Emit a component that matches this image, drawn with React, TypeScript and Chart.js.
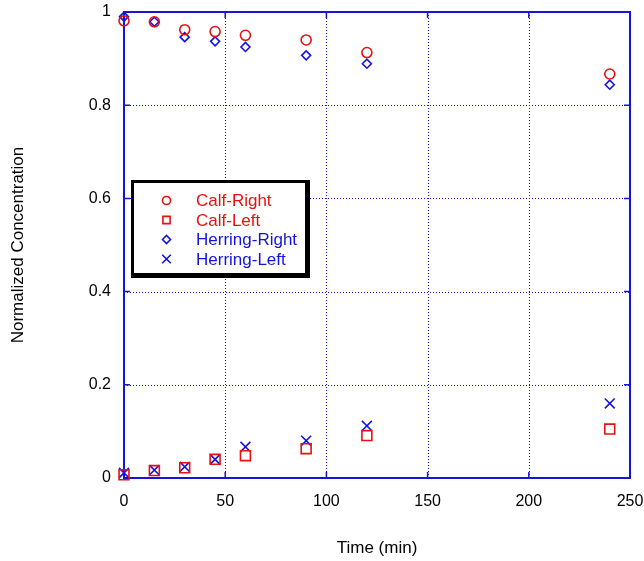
import React, { useEffect, useRef } from "react";
import { Chart, registerables } from "chart.js";

Chart.register(...registerables);

const times = [0, 15, 30, 45, 60, 90, 120, 240];
const calfRight = [0.981, 0.979, 0.962, 0.958, 0.95, 0.94, 0.913, 0.867];
const calfLeft = [0.007, 0.016, 0.022, 0.04, 0.048, 0.063, 0.091, 0.105];
const herringRight = [0.99, 0.979, 0.946, 0.937, 0.925, 0.907, 0.889, 0.844];
const herringLeft = [0.011, 0.017, 0.024, 0.04, 0.067, 0.08, 0.112, 0.16];

const seriesNames = ["Calf-Right", "Calf-Left", "Herring-Right", "Herring-Left"];
const xTitle = "Time (min)";
const yTitle = "Normalized Concentration";

const RED = "#e81010";
const BLUE = "#1414dc";
const FONT = "'Liberation Sans', Arial, sans-serif";

const toPoints = (ys: number[]) => times.map((t, i) => ({ x: t, y: ys[i] }));

function drawMarker(ctx: CanvasRenderingContext2D, kind: string, x: number, y: number, s: number, color: string) {
  ctx.save();
  ctx.strokeStyle = color;
  ctx.lineWidth = 1.6;
  ctx.beginPath();
  if (kind === "circle") {
    ctx.arc(x, y, s, 0, Math.PI * 2);
  } else if (kind === "rect") {
    ctx.rect(x - s, y - s, 2 * s, 2 * s);
  } else if (kind === "diamond") {
    ctx.moveTo(x - s, y);
    ctx.lineTo(x, y - s);
    ctx.lineTo(x + s, y);
    ctx.lineTo(x, y + s);
    ctx.closePath();
  } else {
    ctx.moveTo(x - s, y - s);
    ctx.lineTo(x + s, y + s);
    ctx.moveTo(x + s, y - s);
    ctx.lineTo(x - s, y + s);
  }
  ctx.stroke();
  ctx.restore();
}

const framePlugin = {
  id: "frame",
  beforeDatasetsDraw(chart: any) {
    const { ctx, chartArea, scales } = chart;
    const { left, right, top, bottom } = chartArea;
    const xs = scales.x;
    const ys = scales.y;
    ctx.save();
    ctx.strokeStyle = BLUE;
    ctx.lineWidth = 1;
    ctx.setLineDash([1, 2]);
    xs.ticks.forEach((t: any) => {
      if (t.value <= xs.min || t.value >= xs.max) return;
      const px = Math.round(xs.getPixelForValue(t.value)) + 0.5;
      ctx.beginPath();
      ctx.moveTo(px, top);
      ctx.lineTo(px, bottom);
      ctx.stroke();
    });
    ys.ticks.forEach((t: any) => {
      if (t.value <= ys.min || t.value >= ys.max) return;
      const py = Math.round(ys.getPixelForValue(t.value)) + 0.5;
      ctx.beginPath();
      ctx.moveTo(left, py);
      ctx.lineTo(right, py);
      ctx.stroke();
    });
    ctx.setLineDash([]);
    ctx.lineWidth = 1.5;
    const tl = 6;
    xs.ticks.forEach((t: any) => {
      const px = xs.getPixelForValue(t.value);
      ctx.beginPath();
      ctx.moveTo(px, bottom);
      ctx.lineTo(px, bottom - tl);
      ctx.moveTo(px, top);
      ctx.lineTo(px, top + tl);
      ctx.stroke();
    });
    ys.ticks.forEach((t: any) => {
      const py = ys.getPixelForValue(t.value);
      ctx.beginPath();
      ctx.moveTo(left, py);
      ctx.lineTo(left + tl, py);
      ctx.moveTo(right, py);
      ctx.lineTo(right - tl, py);
      ctx.stroke();
    });
    ctx.lineWidth = 2;
    ctx.strokeRect(left, top, right - left, bottom - top);
    ctx.restore();
  },
};

const legendPlugin = {
  id: "boxLegend",
  afterDraw(chart: any) {
    const { ctx } = chart;
    const bx = 131, by = 180, bw = 179, bh = 98;
    ctx.save();
    ctx.fillStyle = "#000";
    ctx.fillRect(bx, by, bw, bh);
    ctx.fillStyle = "#fff";
    ctx.fillRect(bx + 3, by + 3, bw - 8, bh - 8);
    const kinds = ["circle", "rect", "diamond", "cross"];
    const sizes = [4, 3.6, 4, 4.3];
    const colors = [RED, RED, BLUE, BLUE];
    ctx.font = `17px ${FONT}`;
    ctx.textBaseline = "middle";
    ctx.textAlign = "left";
    seriesNames.forEach((name, i) => {
      const y = by + 20.5 + i * 19.5;
      drawMarker(ctx, kinds[i], 166.5, y, sizes[i], colors[i]);
      ctx.fillStyle = colors[i];
      ctx.fillText(name, 196, y + 1);
    });
    ctx.restore();
  },
};

export default function App() {
  const ref = useRef<HTMLCanvasElement | null>(null);
  useEffect(() => {
    if (!ref.current) return;
    const chart = new Chart(ref.current, {
      type: "scatter",
      data: {
        datasets: [
          {
            label: seriesNames[0],
            data: toPoints(calfRight),
            pointStyle: "circle",
            pointRadius: 5,
            borderColor: RED,
            backgroundColor: "transparent",
            pointBorderWidth: 1.6,
            clip: false,
          },
          {
            label: seriesNames[1],
            data: toPoints(calfLeft),
            pointStyle: "rect",
            pointRadius: 7,
            borderColor: RED,
            backgroundColor: "transparent",
            pointBorderWidth: 1.6,
            clip: false,
          },
          {
            label: seriesNames[2],
            data: toPoints(herringRight),
            pointStyle: "rectRot",
            pointRadius: 4.5,
            borderColor: BLUE,
            backgroundColor: "transparent",
            pointBorderWidth: 1.6,
            clip: false,
          },
          {
            label: seriesNames[3],
            data: toPoints(herringLeft),
            pointStyle: "crossRot",
            pointRadius: 7,
            borderColor: BLUE,
            backgroundColor: "transparent",
            pointBorderWidth: 1.6,
            clip: false,
          },
        ] as any,
      },
      options: {
        responsive: false,
        animation: false,
        devicePixelRatio: 1,
        layout: { padding: { top: 12, right: 14, left: 0, bottom: 0 } },
        plugins: {
          legend: { display: false },
          tooltip: { enabled: false },
        },
        scales: {
          x: {
            type: "linear",
            min: 0,
            max: 250,
            ticks: { stepSize: 50, color: "#000", font: { family: FONT, size: 16 }, padding: 14 },
            grid: { display: false, drawTicks: false },
            border: { display: false },
            title: {
              display: true,
              text: xTitle,
              color: "#000",
              font: { family: FONT, size: 17 },
              padding: { top: 0, bottom: 2 },
            },
            afterFit: (s: any) => {
              s.height = 83;
              s.paddingLeft = 0;
              s.paddingRight = 0;
            },
          },
          y: {
            type: "linear",
            min: 0,
            max: 1,
            ticks: {
              stepSize: 0.2,
              color: "#000",
              font: { family: FONT, size: 16 },
              padding: 13,
              callback: (v: any) => String(Math.round(Number(v) * 10) / 10),
            },
            grid: { display: false, drawTicks: false },
            border: { display: false },
            title: {
              display: true,
              text: yTitle,
              color: "#000",
              font: { family: FONT, size: 17 },
              padding: { top: 8, bottom: 0 },
            },
            afterFit: (s: any) => {
              s.width = 124;
              s.paddingTop = 0;
              s.paddingBottom = 0;
            },
          },
        },
      } as any,
      plugins: [framePlugin, legendPlugin],
    });
    return () => chart.destroy();
  }, []);
  return (
    <div style={{ position: "absolute", left: 0, top: 0, width: 644, height: 561, background: "#fff" }}>
      <canvas ref={ref} width={644} height={561} style={{ display: "block" }} />
    </div>
  );
}
